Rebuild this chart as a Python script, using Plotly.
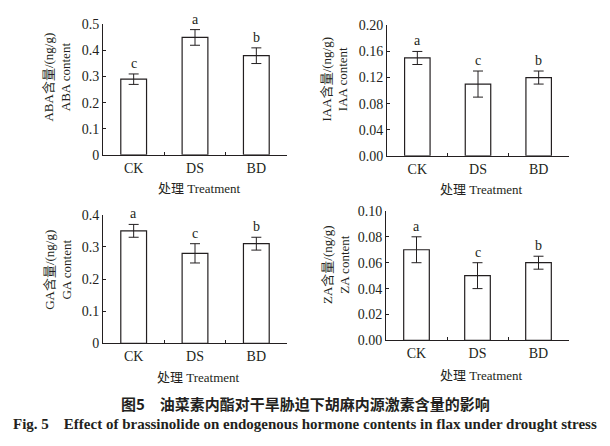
import plotly.graph_objects as go

# data
treatments = ["CK", "DS", "BD"]

aba_mean = [0.29, 0.45, 0.38]
aba_err = [0.02, 0.03, 0.03]
aba_sig = ["c", "a", "b"]

iaa_mean = [0.15, 0.11, 0.12]
iaa_err = [0.01, 0.02, 0.01]
iaa_sig = ["a", "c", "b"]

ga_mean = [0.35, 0.28, 0.31]
ga_err = [0.02, 0.03, 0.02]
ga_sig = ["a", "c", "b"]

za_mean = [0.07, 0.05, 0.06]
za_err = [0.01, 0.01, 0.005]
za_sig = ["a", "c", "b"]

W, H = 610, 446
INK = "#231f20"
SERIF = "Liberation Serif, Noto Sans CJK SC, serif"


def px(x):
    return x / W


def py(y):
    return 1 - y / H


# panel boxes in pixels: left, right, top, bottom
panels = [
    dict(box=(103, 287, 18, 153), mean=aba_mean, err=aba_err, sig=aba_sig,
         rng=[0, 0.5], dtick=0.1, fmt="", zero="0",
         title="ABA含量/(ng/g)<br>ABA content", tpos=(57, 73), xt=(199, 188)),
    dict(box=(387, 569, 19, 154), mean=iaa_mean, err=iaa_err, sig=iaa_sig,
         rng=[0, 0.2], dtick=0.04, fmt=".2f", zero=None,
         title="IAA含量/(ng/g)<br>IAA content", tpos=(335, 75), xt=(482, 189)),
    dict(box=(103, 287, 215, 348), mean=ga_mean, err=ga_err, sig=ga_sig,
         rng=[0, 0.4], dtick=0.1, fmt="", zero="0",
         title="GA含量/(ng/g)<br>GA content", tpos=(58, 272), xt=(198, 383)),
    dict(box=(386, 569, 211, 345), mean=za_mean, err=za_err, sig=za_sig,
         rng=[0, 0.1], dtick=0.02, fmt=".2f", zero=None,
         title="ZA含量/(ng/g)<br>ZA content", tpos=(336, 267), xt=(482, 381)),
]

fig = go.Figure()
annotations = []

for i, p in enumerate(panels, start=1):
    sfx = "" if i == 1 else str(i)
    l, r, t, b = p["box"]
    fig.add_trace(go.Bar(
        x=treatments, y=p["mean"],
        xaxis="x" + sfx, yaxis="y" + sfx,
        width=0.42,
        marker=dict(color="white", line=dict(color=INK, width=1.2)),
        error_y=dict(type="data", array=p["err"], color=INK, thickness=1, width=5),
        showlegend=False,
    ))

    tickvals = []
    v = 0.0
    while v <= p["rng"][1] + 1e-9:
        tickvals.append(round(v, 4))
        v += p["dtick"]
    ticktext = []
    for tv in tickvals:
        if tv == 0 and p["zero"]:
            ticktext.append(p["zero"])
        elif p["fmt"]:
            ticktext.append(format(tv, p["fmt"]))
        else:
            ticktext.append(f"{tv:g}")

    fig.update_layout({
        "xaxis" + sfx: dict(
            domain=[px(l), px(r)], anchor="y" + sfx,
            type="category", range=[-0.5, 2.5],
            tickson="boundaries", ticks="inside", ticklen=3, tickcolor=INK,
            showline=True, linecolor=INK, linewidth=1,
            tickfont=dict(family=SERIF, size=14, color=INK),
            showgrid=False, zeroline=False,
        ),
        "yaxis" + sfx: dict(
            domain=[py(b), py(t)], anchor="x" + sfx,
            range=p["rng"], tickvals=tickvals, ticktext=ticktext,
            ticks="inside", ticklen=3, tickcolor=INK,
            showline=True, linecolor=INK, linewidth=1,
            tickfont=dict(family=SERIF, size=14, color=INK),
            showgrid=False, zeroline=False,
        ),
    })

    # significance letters above the error bars
    for cat, m, e, s in zip(treatments, p["mean"], p["err"], p["sig"]):
        annotations.append(dict(
            x=cat, y=m + e, xref="x" + sfx, yref="y" + sfx,
            text=s, showarrow=False, yanchor="bottom", yshift=1,
            font=dict(family=SERIF, size=14, color=INK),
        ))

    annotations.append(dict(
        x=px(p["tpos"][0]), y=py(p["tpos"][1]), xref="paper", yref="paper",
        text=p["title"], textangle=-90, showarrow=False,
        xanchor="center", yanchor="middle",
        font=dict(family=SERIF, size=13, color=INK),
    ))
    annotations.append(dict(
        x=px(p["xt"][0]), y=py(p["xt"][1]), xref="paper", yref="paper",
        text="处理 Treatment", showarrow=False,
        xanchor="center", yanchor="middle",
        font=dict(family=SERIF, size=13, color=INK),
    ))

annotations.append(dict(
    x=px(305), y=py(410), xref="paper", yref="paper",
    text="<b>图5　油菜素内酯对干旱胁迫下胡麻内源激素含量的影响</b>",
    showarrow=False, xanchor="center", yanchor="middle",
    font=dict(family="Noto Sans CJK SC, sans-serif", size=15, color=INK),
))
annotations.append(dict(
    x=px(305), y=py(432), xref="paper", yref="paper",
    text="<b>Fig. 5    Effect of brassinolide on endogenous hormone contents in flax under drought stress</b>",
    showarrow=False, xanchor="center", yanchor="middle",
    font=dict(family=SERIF, size=15, color=INK),
))

fig.update_layout(
    width=W, height=H,
    margin=dict(l=0, r=0, t=0, b=0),
    paper_bgcolor="white", plot_bgcolor="white",
    annotations=annotations,
)

# drop the default page margin so the figure sits at the window corner
fig.write_html("out.html", config={"displayModeBar": False},
               post_script="document.body.style.margin='0';")
